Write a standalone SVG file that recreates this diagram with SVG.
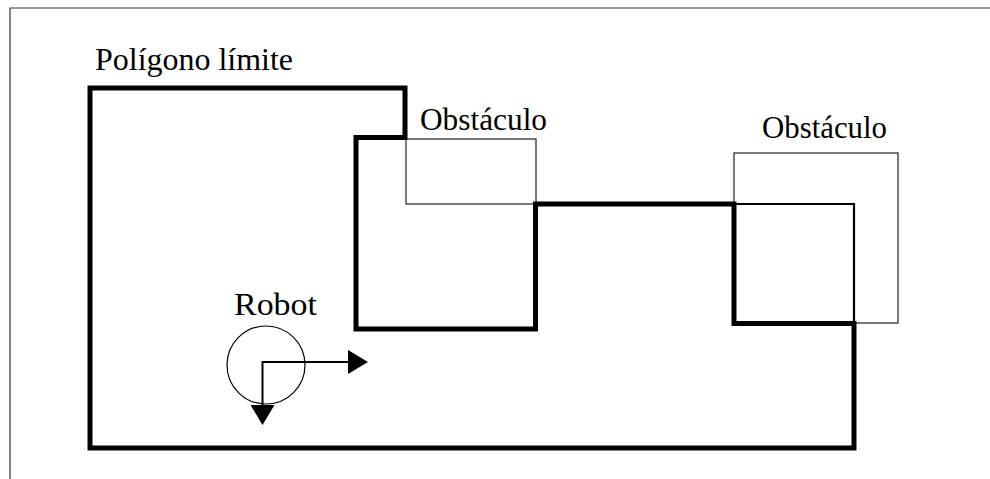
<svg xmlns="http://www.w3.org/2000/svg" width="990" height="479" viewBox="0 0 990 479">
<style>
.lbl{font-family:'Liberation Serif','Times New Roman',Times,serif;font-size:31px;fill:#000}
.thin{fill:none;stroke:#222;stroke-width:1.2}
.med{fill:none;stroke:#000;stroke-width:2.2}
.thick{fill:none;stroke:#000;stroke-width:5;stroke-linejoin:miter;stroke-linecap:square}
</style>
<defs>
<marker id="ah" viewBox="0 0 20 24" refX="0" refY="12" markerWidth="20" markerHeight="24" markerUnits="userSpaceOnUse" orient="auto">
<path d="M0,0 L20,12 L0,24 Z" fill="#000"/>
</marker>
</defs>
<rect width="990" height="479" fill="#fff"/>
<g id="frame">
<path d="M10,479 L10,8 L990,8" fill="none" stroke="#333" stroke-width="1.2"/>
</g>
<g id="obstacle1">
<rect class="thin" x="406" y="139" width="130" height="65"/>
<text class="lbl" font-family="Liberation Serif" x="420" y="130" textLength="127" lengthAdjust="spacingAndGlyphs">Obstáculo</text>
</g>
<g id="obstacle2">
<rect class="thin" x="734" y="153" width="164" height="170"/>
<path class="med" d="M734,204 L854,204 L854,323"/>
<text class="lbl" font-family="Liberation Serif" x="762" y="138" textLength="125" lengthAdjust="spacingAndGlyphs">Obstáculo</text>
</g>
<g id="boundary">
<path class="thick" d="M90,88 L405,88 L405,137.5 L356,137.5 L356,329 L535.5,329 L535.5,204 L734,204 L734,323.5 L854,323.5 L854,448 L90,448 Z"/>
<text class="lbl" font-family="Liberation Serif" x="95" y="70" textLength="198" lengthAdjust="spacingAndGlyphs">Polígono límite</text>
</g>
<g id="robot">
<circle cx="266" cy="365" r="39" fill="none" stroke="#000" stroke-width="1.2"/>
<text class="lbl" font-family="Liberation Serif" x="234" y="315" textLength="83" lengthAdjust="spacingAndGlyphs">Robot</text>
</g>
<g id="connectors">
<path d="M262.5,362 L348,362" fill="none" stroke="#000" stroke-width="2" marker-end="url(#ah)"/>
<path d="M262.5,361 L262.5,405" fill="none" stroke="#000" stroke-width="2" marker-end="url(#ah)"/>
</g>
</svg>
